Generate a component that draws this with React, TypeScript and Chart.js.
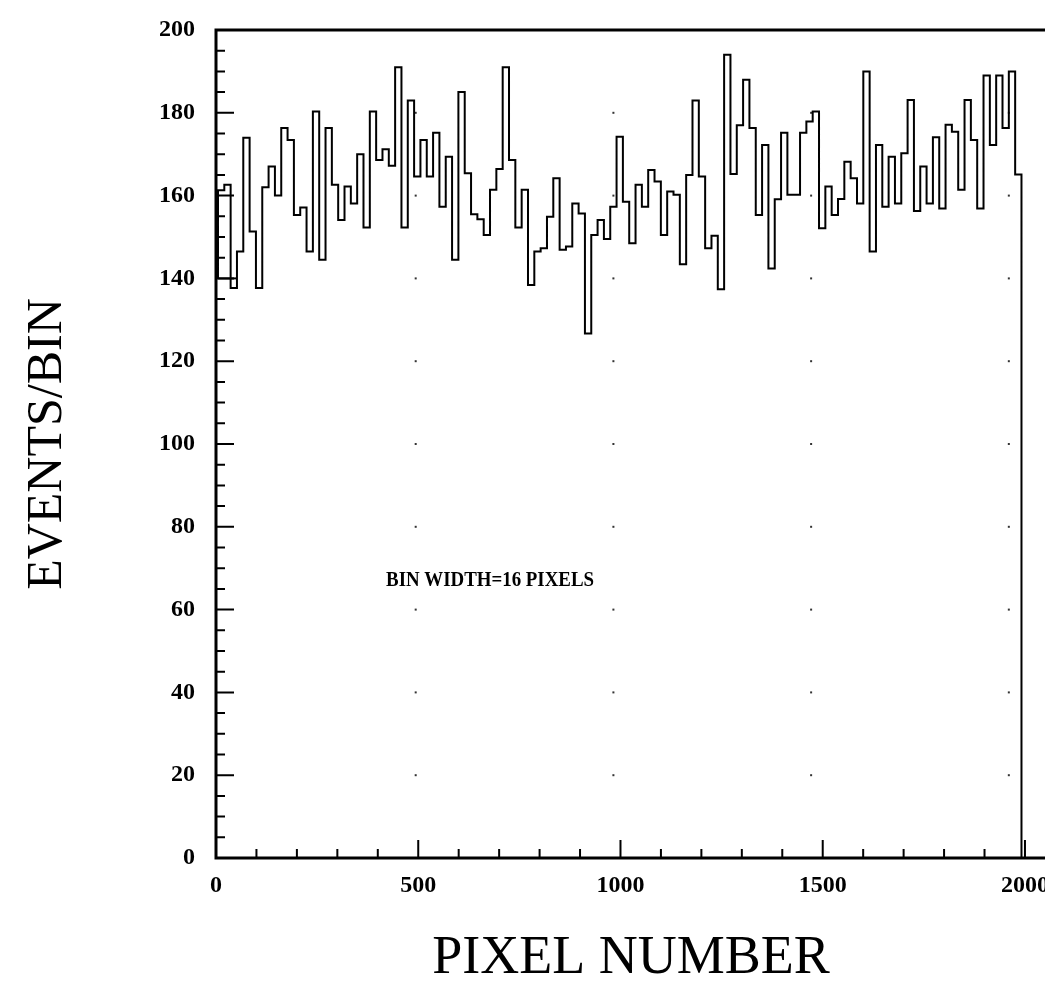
import React, { useEffect, useRef } from "react";
import { Chart, registerables } from "chart.js";

Chart.register(...registerables);

// ---- data ----
const BIN_WIDTH = 16; // pixels per bin
const counts: number[] = [
  159.7, 161.3, 162.6, 137.7, 146.5, 174.0, 151.3, 137.7, 162.0, 167.0,
  160.0, 176.3, 173.4, 155.3, 157.1, 146.5, 180.3, 144.5, 176.3, 162.6,
  154.1, 162.2, 158.1, 170.0, 152.3, 180.3, 168.6, 171.2, 167.2, 191.0,
  152.3, 183.0, 164.6, 173.4, 164.6, 175.2, 157.3, 169.4, 144.5, 185.0,
  165.4, 155.5, 154.3, 150.5, 161.4, 166.4, 191.0, 168.6, 152.3, 161.4,
  138.4, 146.5, 147.3, 154.9, 164.2, 146.9, 147.7, 158.1, 155.7, 126.7,
  150.5, 154.1, 149.5, 157.3, 174.2, 158.5, 148.5, 162.6, 157.3, 166.2,
  163.4, 150.5, 161.0, 160.2, 143.4, 165.0, 183.0, 164.6, 147.3, 150.3,
  137.4, 194.0, 165.2, 177.0, 188.0, 176.3, 155.3, 172.2, 142.4, 159.1,
  175.2, 160.2, 160.2, 175.2, 177.9, 180.3, 152.1, 162.2, 155.3, 159.2,
  168.2, 164.2, 158.1, 190.0, 146.5, 172.2, 157.3, 169.4, 158.1, 170.2,
  183.1, 156.3, 167.0, 158.1, 174.1, 156.9, 177.1, 175.4, 161.4, 183.1,
  173.4, 156.9, 189.0, 172.2, 189.0, 176.3, 190.0, 165.1,
];
const START_LEVEL = 140; // the outline begins at this level on the left
const underflowLevel = 140;
const underflowBins = 3;

const xTickValues = [0, 500, 1000, 1500, 2000];
const yTickValues = [0, 20, 40, 60, 80, 100, 120, 140, 160, 180, 200];
const xMinorStep = 100;
const yMinorStep = 5;

const noteText = "BIN WIDTH=16 PIXELS";
const noteX = 425;
const noteY = 67;

// data axis range and the (slightly wider) printed label axis range
const X_MIN = -5;
const X_MAX = 2094;
const LABEL_X_MIN = 0;
const LABEL_X_MAX = 2052;

const histogramPoints = [
  { x: 0, y: START_LEVEL },
  ...counts.map((c, k) => ({ x: k * BIN_WIDTH, y: c })),
  { x: counts.length * BIN_WIDTH, y: 0 },
];
const underflowPoints = [
  { x: 0, y: underflowLevel },
  { x: underflowBins * BIN_WIDTH, y: underflowLevel },
];

const decorPlugin = {
  id: "decor",
  beforeDatasetsDraw(chart: any) {
    const { ctx, scales } = chart;
    const xs = scales.x;
    const ys = scales.y;
    ctx.save();
    ctx.fillStyle = "#333";
    for (const gx of xTickValues) {
      if (gx === 0) continue;
      for (const gy of yTickValues) {
        if (gy === 0 || gy === 200) continue;
        const px = xs.getPixelForValue(gx);
        const py = ys.getPixelForValue(gy);
        ctx.fillRect(px - 1, py - 1, 2, 2);
      }
    }
    ctx.restore();
  },
  afterDatasetsDraw(chart: any) {
    const { ctx, chartArea, scales } = chart;
    const { left, right, top, bottom } = chartArea;
    const xs = scales.xLabels;
    const ys = scales.y;
    ctx.save();
    ctx.strokeStyle = "#000";
    ctx.lineWidth = 3;
    ctx.beginPath();
    ctx.moveTo(right + 2, top);
    ctx.lineTo(left, top);
    ctx.lineTo(left, bottom);
    ctx.lineTo(right + 2, bottom);
    ctx.stroke();

    ctx.lineWidth = 2;
    ctx.beginPath();
    for (let v = 0; v <= 200; v += yMinorStep) {
      const py = ys.getPixelForValue(v);
      const len = v % 20 === 0 ? 18 : 9;
      ctx.moveTo(left, py);
      ctx.lineTo(left + len, py);
    }
    for (let v = 100; v <= 2000; v += xMinorStep) {
      const px = xs.getPixelForValue(v);
      const len = v % 500 === 0 ? 18 : 9;
      ctx.moveTo(px, bottom);
      ctx.lineTo(px, bottom - len);
    }
    ctx.stroke();

    // note
    const xd = scales.x;
    ctx.fillStyle = "#000";
    ctx.font = "bold 20px 'Liberation Serif'";
    ctx.textBaseline = "middle";
    ctx.textAlign = "left";
    const w = ctx.measureText(noteText).width;
    const target = 208;
    const sx = target / w;
    ctx.translate(xd.getPixelForValue(noteX), ys.getPixelForValue(noteY));
    ctx.scale(sx, 1);
    ctx.fillText(noteText, 0, 0);
    ctx.restore();
  },
};

export default function App() {
  const ref = useRef<HTMLCanvasElement | null>(null);
  useEffect(() => {
    if (!ref.current) return;
    const chart = new Chart(ref.current, {
      type: "line",
      data: {
        datasets: [
          {
            data: histogramPoints,
            borderColor: "#000",
            borderWidth: 2,
            pointRadius: 0,
            stepped: "after",
            fill: false,
            xAxisID: "x",
          },
          {
            data: underflowPoints,
            borderColor: "#000",
            borderWidth: 2,
            pointRadius: 0,
            fill: false,
            xAxisID: "x",
          },
        ],
      },
      options: {
        animation: false,
        responsive: false,
        events: [],
        layout: { padding: { top: 30, right: 4, left: 0, bottom: 0 } },
        plugins: { legend: { display: false }, tooltip: { enabled: false } },
        scales: {
          x: {
            type: "linear",
            display: false,
            min: X_MIN,
            max: X_MAX,
          },
          xLabels: {
            type: "linear",
            position: "bottom",
            min: LABEL_X_MIN,
            max: LABEL_X_MAX,
            afterBuildTicks: (s: any) => {
              s.ticks = xTickValues.map((v) => ({ value: v }));
            },
            afterFit: (s: any) => {
              s.height = 131;
              s.paddingLeft = 0;
              s.paddingRight = 0;
            },
            grid: { display: false, drawTicks: false },
            border: { display: false },
            ticks: {
              color: "#000",
              padding: 13,
              maxRotation: 0,
              autoSkip: false,
              callback: (v: any) => String(v),
              font: { family: "'Liberation Serif'", size: 24, weight: "bold" },
            },
            title: {
              display: true,
              text: "PIXEL NUMBER",
              color: "#000",
              font: { family: "'Liberation Serif'", size: 54, weight: "normal" },
              padding: { top: 0, bottom: -2 },
            },
          },
          y: {
            type: "linear",
            min: 0,
            max: 200,
            afterBuildTicks: (s: any) => {
              s.ticks = yTickValues.map((v) => ({ value: v }));
            },
            afterFit: (s: any) => {
              s.width = 216;
            },
            grid: { display: false, drawTicks: false },
            border: { display: false },
            ticks: {
              color: "#000",
              padding: 21,
              autoSkip: false,
              callback: (v: any) => String(v),
              font: { family: "'Liberation Serif'", size: 24, weight: "bold", lineHeight: 0.6 },
            },
            title: {
              display: true,
              text: "EVENTS/BIN",
              color: "#000",
              font: { family: "'Liberation Serif'", size: 50, weight: "normal" },
              padding: { top: 18, bottom: 0 },
            },
          },
        },
      },
      plugins: [decorPlugin],
    });
    return () => chart.destroy();
  }, []);
  return (
    <div
      style={{
        position: "absolute",
        left: 0,
        top: 0,
        width: 1045,
        height: 989,
        overflow: "hidden",
        background: "#fff",
      }}
    >
      <canvas ref={ref} width={1050} height={989} />
    </div>
  );
}
